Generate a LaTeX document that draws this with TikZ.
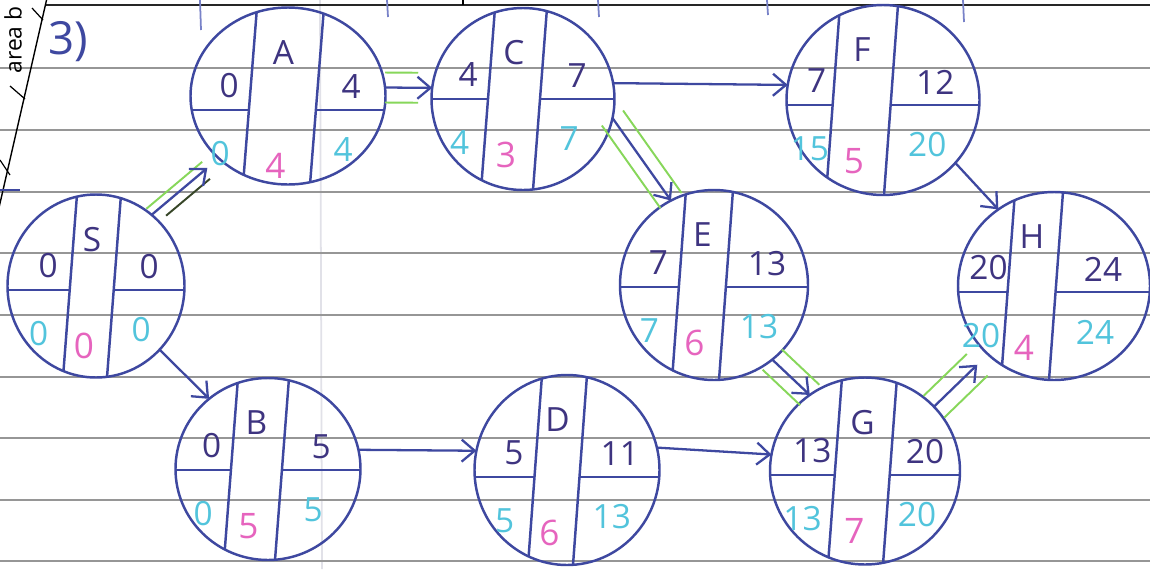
\documentclass[tikz,border=0pt]{standalone}
\usepackage{fontspec}
\setmainfont{Open Sans}
\usetikzlibrary{shapes.geometric,arrows.meta,calc}
\definecolor{pen}{RGB}{62,72,160}
\definecolor{ink}{RGB}{62,52,128}
\definecolor{cyanink}{RGB}{82,196,220}
\definecolor{pinkink}{RGB}{230,100,190}
\definecolor{greenink}{RGB}{135,215,90}
\definecolor{darkmark}{RGB}{55,70,40}
\definecolor{rule}{RGB}{150,150,150}
\definecolor{faint}{RGB}{225,225,232}
\definecolor{tick}{RGB}{120,130,200}
\tikzset{
  actbox/.style={ellipse, draw=pen, line width=1.4pt, inner sep=0pt, outer sep=0pt},
  penline/.style={draw=pen, line width=1.4pt},
  topnum/.style={text=ink, font=\fontsize{19}{19}\selectfont, inner sep=0pt},
  latenum/.style={text=cyanink, font=\fontsize{19}{19}\selectfont, inner sep=0pt},
  durnum/.style={text=pinkink, font=\fontsize{20}{20}\selectfont, inner sep=0pt},
  arr/.style={draw=pen, line width=1.3pt, -{Straight Barb[length=2.6mm,width=4.4mm]}},
  greenmk/.style={draw=greenink, line width=1.1pt},
  ruling/.style={draw=rule, line width=0.6pt},
}
\def\lsh{0}
\newcommand\geom[8]{\def\nn{#1}\def\ncx{#2}\def\ncy{#3}\def\nw{#4}\def\nh{#5}\def\nxa{#6}\def\nxb{#7}\def\nyh{#8}}
\newcommand\vals[6]{%
  \node[actbox, minimum width=\nw*0.02cm, minimum height=\nh*0.02cm] (\nn) at (\ncx,\ncy) {};
  \pgfmathsetmacro\nl{\ncx-\nw/2}\pgfmathsetmacro\nr{\ncx+\nw/2}%
  \pgfmathsetmacro\nt{\ncy-\nh/2}\pgfmathsetmacro\nb{\ncy+\nh/2}%
  \begin{scope}
    \clip (\ncx,\ncy) ellipse [x radius=\nw*0.01cm, y radius=\nh*0.01cm];
    \draw[penline] (\nxa+7,\nt) -- (\nxa-7,\nb) (\nxb+7,\nt) -- (\nxb-7,\nb);
    \draw[penline] (\nl,\nyh) -- (\nxa,\nyh) (\nxb,\nyh) -- (\nr,\nyh);
  \end{scope}
  \node[topnum] (\nn-let) at ({(\nxa+\nxb)/2}, {\nt+45}) {#1};
  \node[topnum] (\nn-es) at ({\nxa-0.35*(\nxa-\nl)+\lsh}, {\nyh-24}) {#2};
  \node[topnum] (\nn-ef) at ({(\nxb+\nr)/2}, {\nyh-23}) {#3};
  \node[latenum] (\nn-ls) at ({(\nl+\nxa)/2+\lsh}, {\nyh+44}) {#4};
  \node[durnum] (\nn-du) at ({(\nxa+\nxb)/2-8}, {\nyh+56}) {#5};
  \node[latenum] (\nn-lf) at ({(\nxb+\nr)/2-8}, {\nyh+40}) {#6};
}
\newcommand\crit[4][]{%
  \draw[greenmk,#1] ($(#2)!#4!90:(#3)$) -- ($(#3)!#4!-90:(#2)$);
  \draw[greenmk,#1] ($(#2)!#4!-90:(#3)$) -- ($(#3)!#4!90:(#2)$);
}
\begin{document}
\begin{tikzpicture}[x=0.02cm,y=-0.02cm]
\useasboundingbox[fill=white] (0,0) rectangle (1150,569);
% paper
\draw[draw=faint, line width=1pt] (320,0) -- (322,569);
\foreach \yy in {68,130,192,253,315,377,438,500,561}
  \draw[ruling] (0,\yy) -- (1150,\yy);
\draw[draw=black!85, line width=1pt] (45,5) -- (1150,5);
\draw[draw=black, line width=0.8pt] (47,-2) -- (-2,212);
\draw[draw=black, line width=0.7pt] (32,8) -- (43,20) (10,86) -- (25,99) (0,160) -- (10,175);
\draw[draw=pen, line width=1pt] (0,190) -- (20,190);
\foreach \xx/\ll in {200/30,387/17,598/17,767/15,963/22}
  \draw[draw=tick, line width=1pt] (\xx,0) -- (\xx+1,\ll);
\draw[draw=black, line width=1pt] (463,0) -- (463,5);
\node[rotate=90, font=\fontsize{13}{13}\selectfont, text=black, inner sep=0pt] (margintext) at (13,40) {area b};
\node[text=pen, font=\fontsize{26}{26}\selectfont, inner sep=0pt] (qnum) at (68,42) {3)};
% activity nodes
\geom{S}{96}{286}{177}{183}{70}{114}{290}\vals{S}{0}{0}{0}{0}{0}
\geom{A}{288}{96}{195}{177}{250}{317}{110}\vals{A}{0}{4}{0}{4}{4}
\geom{C}{523}{99}{183}{182}{488}{540}{99}\vals{C}{4}{7}{4}{3}{7}
\geom{F}{883}{100}{193}{190}{833}{891}{105}\vals{F}{7}{12}{15}{5}{20}
\geom{E}{714}{285}{188}{190}{679}{726}{287}\vals{E}{7}{13}{7}{6}{13}
\def\lsh{-2}
\geom{H}{1054}{286}{192}{188}{1008}{1056}{292}\vals{H}{20}{24}{20}{4}{24}
\def\lsh{0}
\geom{B}{268}{469}{185}{182}{231}{282}{470}\vals{B}{0}{5}{0}{5}{5}
\geom{D}{567}{470}{185}{190}{535}{580}{477}\vals{D}{5}{11}{5}{6}{13}
\geom{G}{865}{471}{190}{187}{835}{890}{475}\vals{G}{13}{20}{13}{7}{20}
% critical path marks
\draw[greenmk, shorten >=0.3cm] ($(S.52)!0.16cm!90:(A.222)$) -- ($(A.222)!0.16cm!-90:(S.52)$);
\draw[draw=darkmark, line width=1.1pt, shorten <=6pt, shorten >=0.4cm] ($(S.52)!0.2cm!-90:(A.222)$) -- ($(A.222)!0.2cm!90:(S.52)$);
\crit[shorten >=8pt]{A.5}{C.173}{0.3cm}
\crit{C.-12}{E.117}{0.26cm}
\crit{E.-52}{G.126}{0.28cm}
\crit[shorten >=0.3cm]{G.43}{H.226}{0.3cm}
% connectors
\draw[arr, shorten >=0.3cm] (S.52) -- (A.222);
\draw[arr] (S.-45) -- (B.130);
\draw[arr] (A.5) -- (C.173);
\draw[arr] (C.10) -- (F.171);
\draw[arr] (C.-12) -- (E.117);
\draw[arr] (F.-41) -- (H.126);
\draw[arr] (E.-52) -- (G.126);
\draw[arr] (B.12) -- (D.168);
\draw[arr] (D.14) -- (G.170);
\draw[arr, shorten >=0.3cm] (G.43) -- (H.226);
\end{tikzpicture}
\end{document}
